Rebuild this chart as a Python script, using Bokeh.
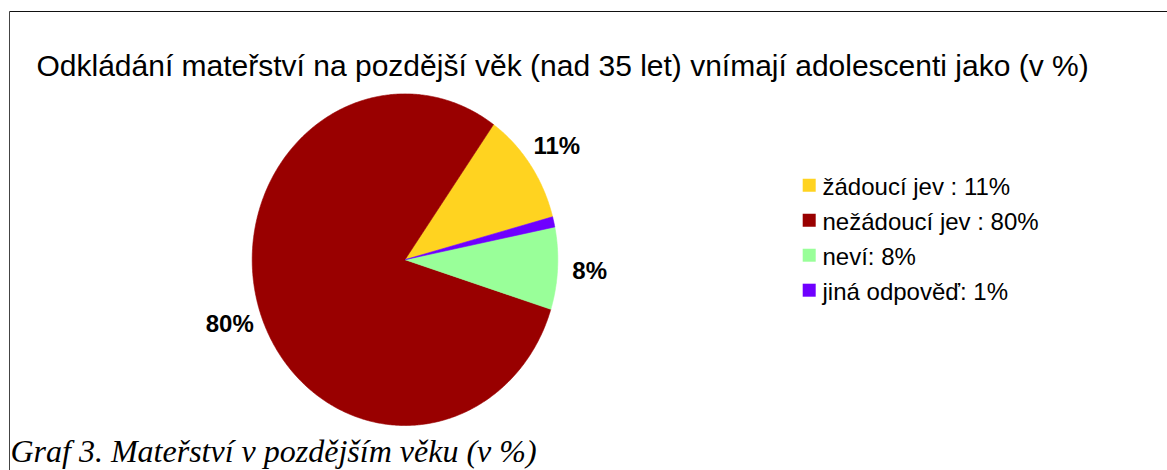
import numpy as np
from bokeh.plotting import figure
from bokeh.models import ColumnDataSource, Range1d, Label
from bokeh.core.properties import value
from bokeh.embed import file_html
from bokeh.resources import INLINE

# ---- data ----
categories = ["žádoucí jev", "nežádoucí jev", "neví", "jiná odpověď"]
legend_labels = ["žádoucí jev : 11%", "nežádoucí jev : 80%", "neví: 8%", "jiná odpověď: 1%"]
values = [11, 80, 8, 1]
colors = ["#FFD320", "#990000", "#99FF99", "#6F00FF"]
title_text = "Odkládání mateřství na pozdější věk (nad 35 let) vnímají adolescenti jako (v %)"
caption_text = "Graf 3. Mateřství v pozdějším věku (v %)"
start_angle_deg = 15.0

# ---- layout (picture pixels -> data units) ----
W, H = 1167, 470
CX, CY = 404.5, 259.2     # pie centre in the picture
RX, RY = 152.8, 165.8     # pie radii in pixels


def px(X):
    return (X - CX) / RX


def py(Y):
    return (CY - Y) / RY


p = figure(width=W, height=H, output_backend="svg", toolbar_location=None,
           x_range=Range1d(px(0), px(W)), y_range=Range1d(py(H), py(0)),
           min_border=0, outline_line_color=None, background_fill_color="white")
p.axis.visible = False
p.grid.visible = False

# ---- frame lines (chart border, cropped at right and bottom) ----
p.segment(x0=[px(9), px(9)], y0=[py(11), py(11)], x1=[px(W + 20), px(9)], y1=[py(11), py(H + 20)],
          line_color=["#111111", "#444444"], line_width=1)

# ---- pie slices (unit circle in data space -> ellipse on screen) ----
total = float(sum(values))
angles = np.deg2rad(start_angle_deg) + 2 * np.pi * np.concatenate([[0], np.cumsum(values)]) / total
xs, ys = [], []
for a0, a1 in zip(angles[:-1], angles[1:]):
    t = np.linspace(a0, a1, max(8, int((a1 - a0) * 120)))
    xs.append(list(np.concatenate([[0.0], np.cos(t), [0.0]])))
    ys.append(list(np.concatenate([[0.0], np.sin(t), [0.0]])))
pie_src = ColumnDataSource(dict(xs=xs, ys=ys, color=colors, cat=categories, val=values))
p.patches("xs", "ys", source=pie_src, fill_color="color", line_color="color", line_width=0.6)

# ---- percentage labels ----
mid = (angles[:-1] + angles[1:]) / 2
lab_r = 1.21
shown = [i for i, v in enumerate(values) if v >= 5]
lab_src = ColumnDataSource(dict(
    x=[lab_r * np.cos(mid[i]) for i in shown],
    y=[lab_r * np.sin(mid[i]) for i in shown],
    text=[f"{values[i]}%" for i in shown]))
p.text("x", "y", text="text", source=lab_src, text_font=value("Liberation Sans"),
       text_font_style="bold", text_font_size="24px", text_align="center",
       text_baseline="middle", text_color="black")

# ---- legend ----
row0, pitch = 192.7, 35.0
leg_y = [row0 + pitch * i for i in range(len(categories))]
leg_src = ColumnDataSource(dict(
    x=[px(808.7)] * len(categories),
    y=[py(b - 8) for b in leg_y],
    tx=[px(822)] * len(categories),
    ty=[py(b - 7) for b in leg_y],
    color=colors, label=legend_labels))
p.rect("x", "y", width=13, height=13, width_units="screen", height_units="screen",
       source=leg_src, fill_color="color", line_color=None)
p.text("tx", "ty", text="label", source=leg_src, text_font=value("Liberation Sans"),
       text_font_size="24px", text_baseline="alphabetic", text_align="left", text_color="black")

# ---- title & caption ----
p.add_layout(Label(x=px(36), y=py(64.5), text=title_text, text_font="Liberation Sans",
                   text_font_size="30px", text_baseline="alphabetic", text_color="black"))
p.add_layout(Label(x=px(10), y=py(450), text=caption_text, text_font="Liberation Serif",
                   text_font_style="italic", text_font_size="32px",
                   text_baseline="alphabetic", text_color="black"))

open("out.html", "w").write(file_html(p, INLINE))
